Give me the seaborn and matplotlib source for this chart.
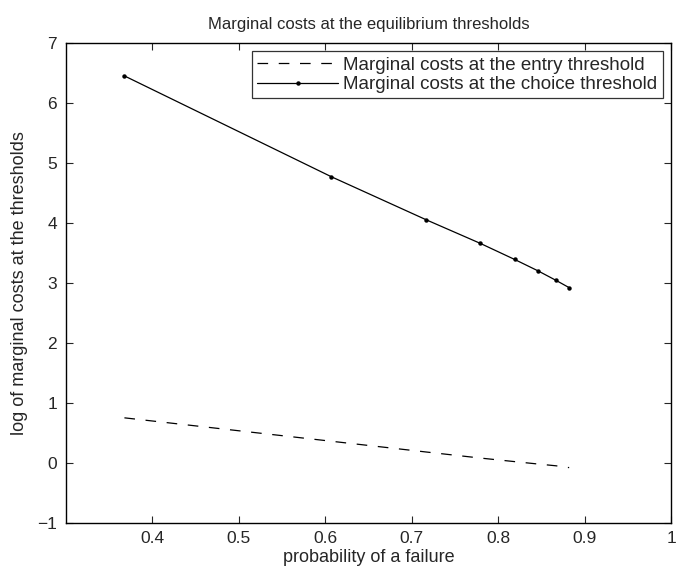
import matplotlib
matplotlib.use("Agg")
import matplotlib.pyplot as plt
import seaborn as sns
import pandas as pd

# data
prob_failure = [0.368, 0.607, 0.717, 0.779, 0.819, 0.846, 0.867, 0.882]
entry_costs = [0.75, 0.36, 0.18, 0.08, 0.02, -0.02, -0.05, -0.08]
choice_costs = [6.45, 4.77, 4.05, 3.66, 3.39, 3.20, 3.04, 2.92]
x_ticks = [0.4, 0.5, 0.6, 0.7, 0.8, 0.9, 1.0]
x_tick_labels = ["0.4", "0.5", "0.6", "0.7", "0.8", "0.9", "1"]
y_ticks = [-1, 0, 1, 2, 3, 4, 5, 6, 7]
y_tick_labels = ["\u22121", "0", "1", "2", "3", "4", "5", "6", "7"]

sns.set_style("ticks")
plt.rcParams['font.family'] = ['Liberation Sans', 'DejaVu Sans']

df_entry = pd.DataFrame({"x": prob_failure, "y": entry_costs})
df_choice = pd.DataFrame({"x": prob_failure, "y": choice_costs})

fig = plt.figure(figsize=(6.76, 5.72), dpi=100)
ax = fig.add_axes([0.097, 0.086, 0.896, 0.839])

sns.lineplot(data=df_entry, x="x", y="y", ax=ax, color="black", lw=0.9,
             linestyle=(0, (8.5, 8.5)), label="Marginal costs at the entry threshold")
sns.lineplot(data=df_choice, x="x", y="y", ax=ax, color="black", lw=0.9,
             marker="o", markersize=3.2, markeredgewidth=0,
             label="Marginal costs at the choice threshold")

ax.set_xlim(0.3, 1.0)
ax.set_ylim(-1, 7)
ax.set_xticks(x_ticks)
ax.set_xticklabels(x_tick_labels)
ax.set_yticks(y_ticks)
ax.set_yticklabels(y_tick_labels)
ax.tick_params(direction="in", top=True, right=True, labelsize=12.5, length=5, width=0.8, pad=6)
for s in ax.spines.values():
    s.set_visible(True)
    s.set_linewidth(1.0)
    s.set_color("black")

ax.set_xlabel("probability of a failure", fontsize=13, labelpad=2)
ax.set_ylabel("log of marginal costs at the thresholds", fontsize=13, labelpad=7)
ax.set_title("Marginal costs at the equilibrium thresholds", fontsize=12, pad=10)

leg = ax.legend(loc="upper right", fontsize=13.5, frameon=True, fancybox=False,
                edgecolor="black", borderpad=0.28, handlelength=4.3,
                handletextpad=0.3, labelspacing=0.12, borderaxespad=0.45)
leg.get_frame().set_linewidth(0.9)

fig.savefig("out.png", dpi=100)
